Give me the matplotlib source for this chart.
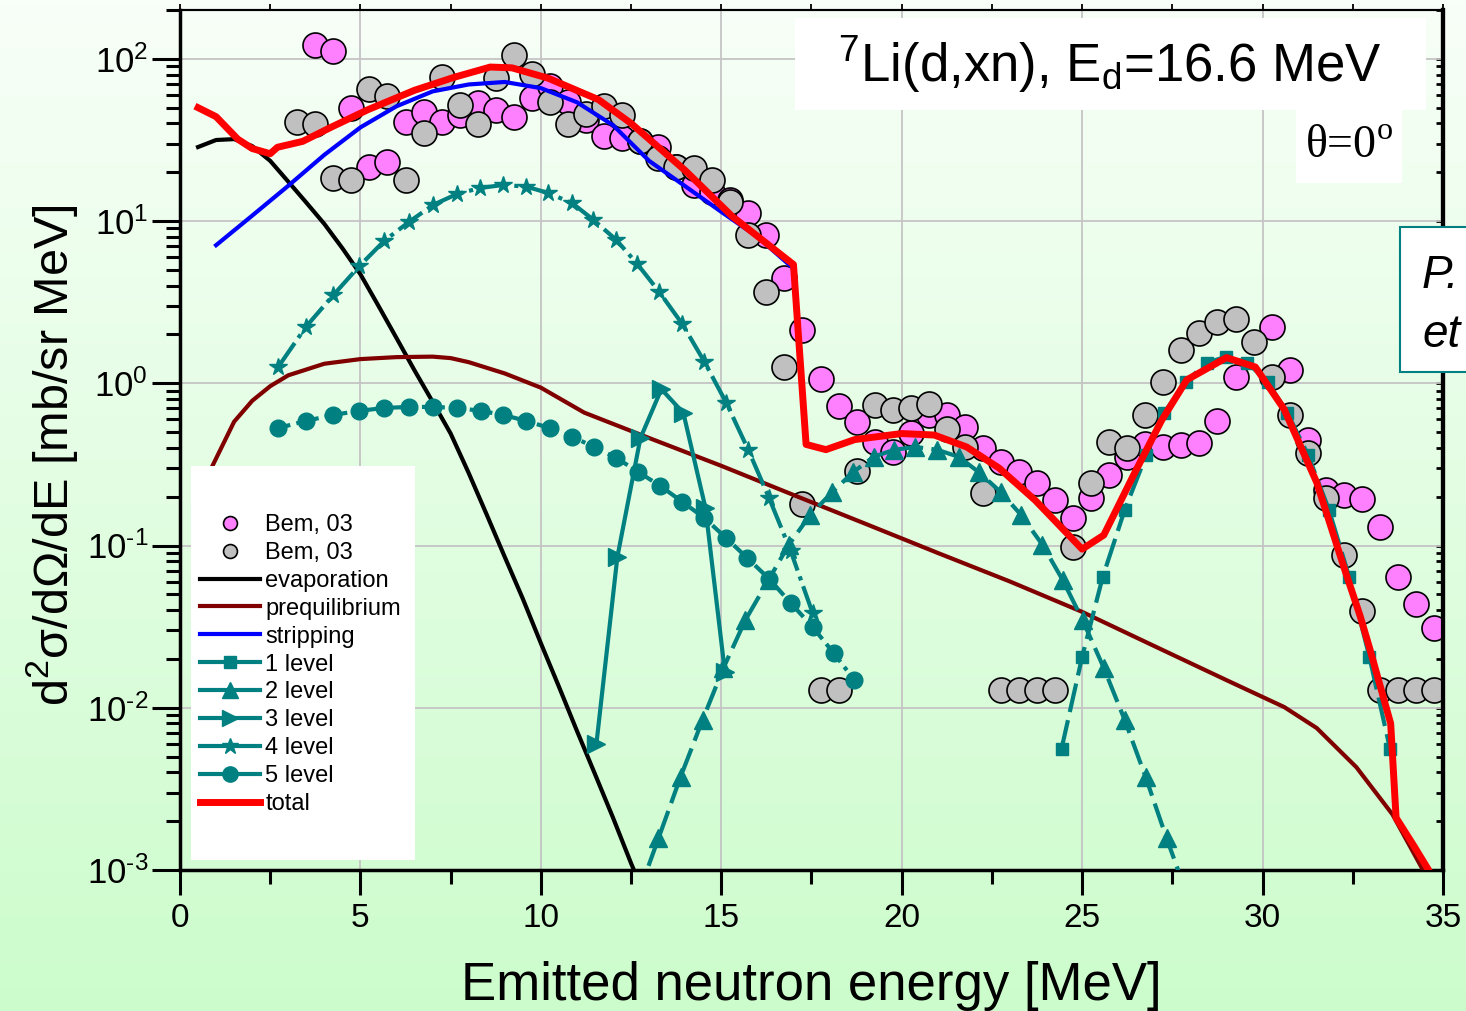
import numpy as np
import matplotlib.pyplot as plt
from matplotlib.lines import Line2D
from matplotlib.patches import Rectangle
from matplotlib.colors import LinearSegmentedColormap
from matplotlib.ticker import MultipleLocator, LogLocator, FuncFormatter, NullFormatter

plt.rcParams['font.family'] = ['Liberation Sans', 'DejaVu Sans']
plt.rcParams['mathtext.fontset'] = 'custom'
plt.rcParams['mathtext.rm'] = 'Liberation Sans'
plt.rcParams['mathtext.it'] = 'Liberation Sans:italic'
plt.rcParams['mathtext.bf'] = 'Liberation Sans:bold'
plt.rcParams['axes.unicode_minus'] = False

TEAL = '#008080'

# experimental points (two data sets)
pink_x = [3.75, 4.25, 4.75, 5.25, 5.75, 6.25, 6.75, 7.25, 7.75, 8.25, 8.75, 9.25, 9.75,
          10.25, 10.75, 11.25, 11.75, 12.25, 12.75, 13.25, 13.75, 14.25, 14.75, 15.25,
          15.75, 16.25, 16.75, 17.25, 17.75, 18.25, 18.75, 19.25, 19.75, 20.25, 20.75,
          21.25, 21.75, 22.25, 22.75, 23.25, 23.75, 24.25, 24.75, 25.25, 25.75, 26.25,
          26.75, 27.25, 27.75, 28.25, 28.75, 29.25, 30.25, 30.75, 31.25, 31.75, 32.25,
          32.75, 33.25, 33.75, 34.25, 34.75]
pink_y = [122, 112, 50, 21.6, 23.2, 41, 47, 41, 45, 53.6, 48.5, 44, 57.5, 68, 54, 42,
          33.5, 32.6, 31, 28.7, 21.6, 16.7, 15.1, 13.5, 11.2, 8.2, 4.47, 2.13, 1.06,
          0.726, 0.578, 0.436, 0.378, 0.494, 0.638, 0.638, 0.538, 0.40, 0.328, 0.285,
          0.243, 0.191, 0.148, 0.196, 0.272, 0.352, 0.423, 0.405, 0.414, 0.43, 0.586,
          1.1, 2.23, 1.21, 0.448, 0.22, 0.205, 0.194, 0.13, 0.064, 0.0437, 0.031]

grey_x = [3.25, 3.75, 4.25, 4.75, 5.25, 5.75, 6.25, 6.75, 7.25, 7.75, 8.25, 8.75, 9.25,
          9.75, 10.25, 10.75, 11.25, 11.75, 12.25, 12.75, 13.25, 13.75, 14.25, 14.75,
          15.25, 15.75, 16.25, 16.75, 17.25, 17.75, 18.25, 18.75, 19.25, 19.75, 20.25,
          20.75, 21.25, 21.75, 22.25, 22.75, 23.25, 23.75, 24.25, 24.75, 25.25, 25.75,
          26.25, 26.75, 27.25, 27.75, 28.25, 28.75, 29.25, 29.75, 30.25, 30.75, 31.25,
          31.75, 32.25, 32.75, 33.25, 33.75, 34.25, 34.75]
grey_y = [41, 39.5, 18.3, 17.9, 65, 59, 17.9, 35, 77, 52, 39.5, 76, 105, 81, 54, 39.5,
          46, 51, 45, 31, 24.5, 21.6, 21.3, 17.9, 13.1, 8.2, 3.66, 1.26, 0.18, 0.0129,
          0.0129, 0.29, 0.73, 0.685, 0.705, 0.746, 0.52, 0.405, 0.21, 0.0129, 0.0129,
          0.0129, 0.0129, 0.098, 0.243, 0.436, 0.40, 0.638, 1.02, 1.61, 2.05, 2.39, 2.5,
          1.8, 1.1, 0.638, 0.372, 0.196, 0.0875, 0.0395, 0.0129, 0.0129, 0.0129, 0.0129]

# model components
evap_x = [0.5, 1.0, 1.5, 2.0, 2.5, 3.0, 3.5, 4.0, 4.5, 5.0, 5.5, 6.0, 6.5, 7.0, 7.5,
          8.0, 8.5, 9.0, 9.5, 10.0, 10.5, 11.0, 11.5, 12.0, 12.5, 13.0]
evap_y = [28.6, 31.6, 32.0, 29.0, 23.5, 17.5, 13.0, 9.6, 6.8, 4.7, 3.0, 1.9, 1.2, 0.77,
          0.49, 0.28, 0.155, 0.085, 0.047, 0.025, 0.0135, 0.0072, 0.0039, 0.0021,
          0.0011, 0.0006]

preq_x = [0.5, 0.9, 1.5, 2.0, 2.5, 3.0, 4.0, 5.0, 6.0, 7.0, 7.5, 8.0, 9.0, 10.0, 11.2,
          13.0, 15.0, 17.0, 19.0, 21.0, 23.0, 25.0, 27.0, 29.0, 30.6, 31.5, 32.6, 33.6,
          34.5]
preq_y = [0.17, 0.31, 0.58, 0.78, 0.96, 1.12, 1.32, 1.41, 1.45, 1.46, 1.43, 1.35, 1.15,
          0.94, 0.66, 0.46, 0.31, 0.205, 0.136, 0.09, 0.06, 0.039, 0.024, 0.0148,
          0.0101, 0.0075, 0.0043, 0.0022, 0.00095]

strip_x = [1, 2, 3, 4, 5, 6, 7, 8, 9, 10, 11, 12, 13, 14, 15, 16, 17]
strip_y = [7.1, 10.8, 16.5, 25.6, 37.8, 51, 63, 69.5, 72, 66, 54, 39, 23.5, 16.4,
           11.4, 8.0, 5.1]

lvl1_x = [24.43, 25.0, 25.57, 26.18, 26.78, 27.27, 27.87, 28.45, 29.0, 29.58, 30.14,
          30.69, 31.26, 31.84, 32.4, 32.96, 33.53]
lvl1_y = [0.0056, 0.0206, 0.064, 0.166, 0.362, 0.657, 1.02, 1.34, 1.46, 1.34, 1.02,
          0.657, 0.362, 0.166, 0.064, 0.0206, 0.0056]

lvl2_x = [12.67, 13.26, 13.87, 14.48, 15.06, 15.67, 16.31, 16.87, 17.47, 18.08, 18.66,
          19.22, 19.78, 20.38, 20.99, 21.58, 22.13, 22.74, 23.3, 23.9, 24.46, 25.01,
          25.6, 26.18, 26.76, 27.34, 27.93]
lvl2_y = [0.00068, 0.00157, 0.00374, 0.0084, 0.0176, 0.0348, 0.0614, 0.101, 0.155,
          0.214, 0.284, 0.352, 0.389, 0.405, 0.389, 0.352, 0.284, 0.214, 0.155, 0.101,
          0.0614, 0.0348, 0.0176, 0.0084, 0.00374, 0.00157, 0.00068]

lvl3_x = [11.54, 12.12, 12.76, 13.34, 13.95, 14.56, 15.1]
lvl3_y = [0.006, 0.085, 0.46, 0.92, 0.656, 0.171, 0.0166]

lvl4_x = [2.72, 3.49, 4.24, 4.96, 5.66, 6.35, 7.02, 7.68, 8.32, 8.96, 9.6, 10.2, 10.87,
          11.45, 12.09, 12.67, 13.28, 13.92, 14.53, 15.14, 15.75, 16.33, 16.92, 17.53]
lvl4_y = [1.26, 2.23, 3.48, 5.25, 7.55, 9.9, 12.6, 14.7, 16.0, 16.7, 16.3, 14.9, 12.9,
          10.2, 7.65, 5.45, 3.66, 2.32, 1.36, 0.757, 0.388, 0.195, 0.093, 0.0384]

lvl5_x = [2.72, 3.49, 4.24, 4.96, 5.66, 6.35, 7.02, 7.68, 8.34, 8.96, 9.6, 10.24, 10.87,
          11.48, 12.09, 12.7, 13.31, 13.92, 14.53, 15.14, 15.72, 16.33, 16.92, 17.53,
          18.11, 18.69]
lvl5_y = [0.53, 0.586, 0.638, 0.676, 0.705, 0.715, 0.715, 0.705, 0.676, 0.638, 0.586,
          0.53, 0.468, 0.405, 0.347, 0.284, 0.233, 0.186, 0.148, 0.111, 0.0838, 0.0622,
          0.0443, 0.0315, 0.0218, 0.0148]

total_x = [0.5, 1.0, 1.6, 2.0, 2.5, 2.7, 3.4, 4.2, 5.2, 6.5, 7.6, 8.6, 9.2, 10.2, 11.6,
           12.5, 14.0, 15.3, 17.0, 17.35, 17.9, 18.7, 20.0, 20.9, 21.8, 22.7, 23.7,
           25.0, 25.6, 26.4, 27.2, 27.9, 29.0, 29.8, 30.6, 31.5, 32.25, 32.7, 32.95,
           33.55, 33.7, 34.2, 34.6]
total_y = [50, 44, 32, 28, 26, 28.5, 31, 38, 48.5, 64, 77, 89, 88, 76, 56, 40, 20.5,
           10.7, 5.4, 0.42, 0.39, 0.45, 0.49, 0.48, 0.405, 0.30, 0.19, 0.095, 0.116,
           0.265, 0.59, 1.05, 1.44, 1.26, 0.69, 0.245, 0.074, 0.037, 0.024, 0.008,
           0.0021, 0.0014, 0.001]


def decade_label(v, pos):
    # plain hyphen in the exponent, as the original axis shows it
    e = int(round(np.log10(v)))
    if e < 0:
        return r'$\mathdefault{10^{\text{-}%d}}$' % (-e)
    return r'$\mathdefault{10^{%d}}$' % e


W, H = 1466, 1011
fig = plt.figure(figsize=(W / 100, H / 100), dpi=100)

# soft white-to-green backdrop behind everything
bg = fig.add_axes([0, 0, 1, 1], zorder=-10)
cmap = LinearSegmentedColormap.from_list('bg', ['#f8fff8', '#ccfccc'])
bg.imshow(np.linspace(0, 1, 256)[:, None], cmap=cmap, aspect='auto',
          extent=[0, 1, 0, 1], origin='upper')
bg.axis('off')

ax = fig.add_axes([180 / W, 1 - 870 / H, 1263 / W, 860 / H])
ax.set_facecolor('none')

ax.plot(pink_x, pink_y, 'o', ms=18, mfc='#ff80ff', mec='black', mew=1.2, zorder=2)
ax.plot(grey_x, grey_y, 'o', ms=18, mfc='#c0c0c0', mec='black', mew=1.2, zorder=2.1)

ax.plot(evap_x, evap_y, color='black', lw=3, zorder=3)
ax.plot(preq_x, preq_y, color='#800000', lw=3, zorder=3)
ax.plot(strip_x, strip_y, color='#0000ff', lw=3, zorder=3)

ax.plot(lvl1_x, lvl1_y, color=TEAL, lw=3, marker='s', ms=9, dashes=(7, 2), zorder=3)
ax.plot(lvl2_x, lvl2_y, color=TEAL, lw=3, marker='^', ms=13, dashes=(6, 2), zorder=3)
ax.plot(lvl3_x, lvl3_y, color=TEAL, lw=3, marker='>', ms=13, zorder=3)
ax.plot(lvl4_x, lvl4_y, color=TEAL, lw=3, marker='*', ms=13, dashes=(7, 1.5, 1, 1.5), zorder=3)
ax.plot(lvl5_x, lvl5_y, color=TEAL, lw=3, marker='o', ms=12, dashes=(3, 1.5, 1, 1.5), zorder=3)

ax.plot(total_x, total_y, color='#ff0000', lw=5, solid_joinstyle='round', zorder=4)

ax.set_xlim(0, 35)
ax.set_yscale('log')
ax.set_ylim(1e-3, 2e2)

ax.grid(True, which='major', color='#c4c4c4', lw=1.3)
ax.set_axisbelow(True)

ax.xaxis.set_major_locator(MultipleLocator(5))
ax.xaxis.set_minor_locator(MultipleLocator(2.5))
ax.yaxis.set_major_locator(LogLocator(base=10, numticks=10))
ax.yaxis.set_minor_locator(LogLocator(base=10, subs=np.arange(2, 10), numticks=10))
ax.yaxis.set_major_formatter(FuncFormatter(decade_label))
ax.yaxis.set_minor_formatter(NullFormatter())

ax.tick_params(axis='x', which='major', direction='out', length=18, width=2.2,
               labelsize=24, pad=6)
ax.tick_params(axis='x', which='minor', direction='out', length=10, width=2.2)
ax.tick_params(axis='y', which='major', direction='out', length=20, width=2.2,
               labelsize=25, pad=3)
ax.tick_params(axis='y', which='minor', direction='out', length=10, width=2.2)
for lab in ax.get_xticklabels():
    lab.set_family(['Liberation Sans Narrow', 'Liberation Sans'])

for side, lw in (('left', 2.5), ('bottom', 2.5), ('right', 3), ('top', 1.5)):
    ax.spines[side].set_linewidth(lw)

top = ax.secondary_xaxis('top')
top.xaxis.set_major_locator(MultipleLocator(5))
top.xaxis.set_minor_locator(MultipleLocator(2.5))
top.tick_params(which='both', direction='out', length=4, width=1.3, labeltop=False)
top.spines['top'].set_linewidth(1.5)

right = ax.secondary_yaxis('right')
right.yaxis.set_major_locator(LogLocator(base=10, numticks=10))
right.yaxis.set_minor_locator(LogLocator(base=10, subs=np.arange(2, 10), numticks=10))
right.tick_params(which='both', direction='in', length=5, width=2, labelright=False)
right.spines['right'].set_linewidth(3)

# legend sits on its own white panel
ax.add_patch(Rectangle((11 / 1263, 10 / 860), 224 / 1263, 394 / 860,
                       transform=ax.transAxes, facecolor='white', edgecolor='none',
                       zorder=4.5))
handles = [
    Line2D([], [], ls='none', marker='o', ms=10, mfc='#ff80ff', mec='black', mew=1.2),
    Line2D([], [], ls='none', marker='o', ms=10, mfc='#c0c0c0', mec='black', mew=1.2),
    Line2D([], [], color='black', lw=3),
    Line2D([], [], color='#800000', lw=3),
    Line2D([], [], color='#0000ff', lw=3),
    Line2D([], [], color=TEAL, lw=3, marker='s', ms=9),
    Line2D([], [], color=TEAL, lw=3, marker='^', ms=12),
    Line2D([], [], color=TEAL, lw=3, marker='>', ms=12),
    Line2D([], [], color=TEAL, lw=3, marker='*', ms=12),
    Line2D([], [], color=TEAL, lw=3, marker='o', ms=11),
    Line2D([], [], color='#ff0000', lw=5),
]
labels = ['Bem, 03', 'Bem, 03', 'evaporation', 'prequilibrium', 'stripping',
          '1 level', '2 level', '3 level', '4 level', '5 level', 'total']
leg = ax.legend(handles, labels, loc='upper left',
                bbox_to_anchor=(20 / 1263, (870 - 514) / 860), frameon=False,
                fontsize=17, handlelength=2.55, handletextpad=0.22, labelspacing=0.25,
                borderpad=0, borderaxespad=0, numpoints=1)
leg.set_zorder(5)

# reaction label
fig.add_artist(Rectangle((795 / W, 1 - 110 / H), 631 / W, 92 / H,
                         transform=fig.transFigure, facecolor='white',
                         edgecolor='none', zorder=3))
fig.text(838 / W, 1 - 82 / H, r'$^{7}$Li(d,xn), E$_{\mathdefault{d}}$=16.6 MeV',
         fontsize=38, ha='left', va='baseline', zorder=4)

fig.add_artist(Rectangle((1296 / W, 1 - 183 / H), 106 / W, 73 / H,
                         transform=fig.transFigure, facecolor='white',
                         edgecolor='none', zorder=3))
fig.text(1305 / W, 1 - 157 / H, r'θ=0$^{\mathdefault{o}}$', fontsize=33,
         family=['Liberation Serif', 'DejaVu Serif'], ha='left', va='baseline', zorder=4)

# partly visible citation panel on the right
fig.add_artist(Rectangle((1400 / W, 1 - 372 / H), 120 / W, 145 / H,
                         transform=fig.transFigure, facecolor='white',
                         edgecolor=TEAL, lw=1.5, zorder=3))
fig.text(1422 / W, 1 - 288 / H, 'P.', fontsize=33, style='italic',
         ha='left', va='baseline', zorder=4)
fig.text(1422 / W, 1 - 347 / H, 'et', fontsize=33, style='italic',
         ha='left', va='baseline', zorder=4)

fig.text(811 / W, 1 - 1000 / H, 'Emitted neutron energy [MeV]', fontsize=38,
         ha='center', va='baseline')
fig.text(52 / W, 1 - 455 / H, r'd$^{2}$σ/dΩ/dE [mb/sr MeV]', fontsize=35,
         rotation=90, ha='center', va='center')

fig.savefig('out.png', dpi=100)
